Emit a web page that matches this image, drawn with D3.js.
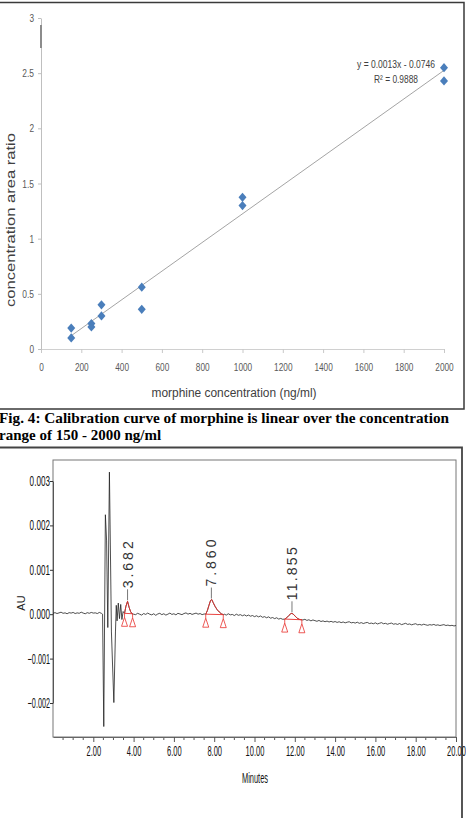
<!DOCTYPE html>
<html>

<head>
    <meta charset='utf-8'>
    <title>Morphine calibration and chromatogram</title>
    <script src='https://d3js.org/d3.v7.min.js'></script>
    <style>
        body { margin: 0; background: #fff; }
        svg { display: block; }
    </style>
</head>

<body>
    <script>
        // ---- calibration data (Fig. 4) ----
        const concentration = [150, 150, 250, 250, 300, 300, 500, 500, 1000, 1000, 2000, 2000];
        const areaRatio = [0.10, 0.19, 0.20, 0.23, 0.30, 0.40, 0.36, 0.56, 1.30, 1.375, 2.43, 2.55];
        const fitSlope = 0.0013;
        const fitIntercept = -0.0746;
        const fitRange = [150, 2000];
        const calXTicks = [0, 200, 400, 600, 800, 1000, 1200, 1400, 1600, 1800, 2000];
        const calYTicks = [0, 0.5, 1, 1.5, 2, 2.5, 3];

        // ---- chromatogram data: [minutes, micro AU] ----
        const chromSignal = [
            [0.0, 20], [0.1, 35], [0.2, 15], [0.3, 30], [0.4, 45], [0.5, 20], [0.6, 30], [0.7, 10], [0.8, 35], [0.9, 25],
            [1.0, 40], [1.1, 15], [1.2, 30], [1.3, 20], [1.4, 45], [1.5, 25], [1.6, 10], [1.7, 35], [1.8, 20], [1.9, 40],
            [2.0, 25], [2.1, 30], [2.2, 15], [2.3, 40], [2.4, 20],
            [2.46, 0], [2.52, -2530], [2.60, 2240], [2.66, 1650], [2.72, -300], [2.80, 3200], [2.90, -400], [3.02, -1990],
            [3.10, -400], [3.14, 200], [3.18, -150], [3.24, 250], [3.30, -100], [3.36, 220], [3.42, -120], [3.48, 60],
            [3.55, 20], [3.62, 180], [3.70, 290], [3.78, 150], [3.85, 60], [3.92, 10], [4.0, 0],
            [4.1, -10], [4.2, 20], [4.3, 0], [4.4, -20], [4.5, 15], [4.6, -5], [4.7, 25], [4.8, 0], [4.9, -15], [5.0, 10],
            [5.1, -25], [5.2, 5], [5.3, 20], [5.4, -10], [5.5, 10], [5.6, -20], [5.7, 0], [5.8, 25], [5.9, -5], [6.0, 10],
            [6.1, -15], [6.2, 20], [6.3, 5], [6.4, -10], [6.5, 15], [6.6, 30], [6.7, 0], [6.8, 20], [6.9, -5], [7.0, 10],
            [7.1, 25], [7.2, 0], [7.3, 15], [7.4, -10], [7.5, 5],
            [7.58, 0], [7.66, 80], [7.74, 200], [7.82, 310], [7.88, 330], [7.95, 260], [8.05, 170], [8.15, 100],
            [8.25, 50], [8.35, 10], [8.45, -10],
            [8.5, 0], [8.6, -20], [8.7, 10], [8.8, -15], [8.9, -5], [9.0, -30], [9.1, 0], [9.2, -25], [9.3, -10], [9.4, -35],
            [9.5, -15], [9.6, -40], [9.7, -20], [9.8, -45], [9.9, -30], [10.0, -55], [10.1, -35], [10.2, -60], [10.3, -40],
            [10.4, -70], [10.5, -55], [10.6, -80], [10.7, -60], [10.8, -90], [10.9, -75], [11.0, -100], [11.1, -80],
            [11.2, -110], [11.3, -95], [11.4, -115],
            [11.5, -110], [11.6, -80], [11.7, -30], [11.8, 10], [11.86, 20], [11.95, -10], [12.05, -60], [12.15, -100],
            [12.25, -120], [12.35, -125],
            [12.4, -130], [12.5, -115], [12.6, -140], [12.7, -125], [12.8, -150], [12.9, -130], [13.0, -145], [13.1, -160],
            [13.2, -140], [13.3, -165], [13.4, -150], [13.5, -170], [13.6, -155], [13.7, -175], [13.8, -160], [13.9, -180],
            [14.0, -165], [14.1, -185], [14.2, -170], [14.3, -190], [14.4, -175], [14.5, -195], [14.6, -180], [14.7, -170],
            [14.8, -195], [14.9, -185], [15.0, -200], [15.1, -180], [15.2, -205], [15.3, -190], [15.4, -210], [15.5, -195],
            [15.6, -185], [15.7, -210], [15.8, -200], [15.9, -215], [16.0, -195], [16.1, -220], [16.2, -205], [16.3, -190],
            [16.4, -215], [16.5, -205], [16.6, -225], [16.7, -210], [16.8, -200], [16.9, -225], [17.0, -215], [17.1, -230],
            [17.2, -210], [17.3, -235], [17.4, -220], [17.5, -205], [17.6, -230], [17.7, -220], [17.8, -240], [17.9, -225],
            [18.0, -215], [18.1, -240], [18.2, -230], [18.3, -245], [18.4, -225], [18.5, -240], [18.6, -250], [18.7, -235],
            [18.8, -245], [18.9, -230], [19.0, -250], [19.1, -240], [19.2, -255], [19.3, -245], [19.4, -235], [19.5, -255],
            [19.6, -245], [19.7, -260], [19.8, -250], [19.9, -265], [20.0, -255]
        ];
        const peakLabels = ['3.682', '7.860', '11.855'];
        const peakApex = [[3.70, 290], [7.86, 330], [11.86, 20]];
        const peakStart = [[3.55, 20], [7.58, 0], [11.5, -110]];
        const peakEnd = [[3.95, 10], [8.45, -10], [12.35, -125]];
        const chromXTicks = [2, 4, 6, 8, 10, 12, 14, 16, 18, 20];
        const chromYTicks = [-2000, -1000, 0, 1000, 2000, 3000];

        const svg = d3.select('body')
            .append('svg')
            .attr('width', 466)
            .attr('height', 818);

        // squeeze narrow tick text to a width estimated from its characters
        function squeeze(sel, digit, dot) {
            sel.each(function () {
                const s = this.textContent;
                let w = 0;
                for (const c of s) w += /[0-9]/.test(c) ? digit : (c === '-' ? digit * 0.7 : dot);
                d3.select(this).attr('textLength', w).attr('lengthAdjust', 'spacingAndGlyphs');
            });
        }

        // ================= Fig. 4 calibration curve =================
        svg.append('path')
            .attr('d', 'M0,2.5H464V409H0')
            .attr('fill', 'none')
            .attr('stroke', '#3a3a3a')
            .attr('stroke-width', 1.5);

        const xCal = d3.scaleLinear().domain([0, 2000]).range([41, 444]);
        const yCal = d3.scaleLinear().domain([0, 3]).range([349, 18]);

        const gx = svg.append('g')
            .attr('transform', 'translate(0,' + yCal(0) + ')')
            .call(d3.axisBottom(xCal).tickValues(calXTicks).tickSize(4).tickSizeOuter(0).tickFormat(d3.format('d')));
        gx.select('.domain').attr('stroke', '#d0d0d0');
        gx.selectAll('.tick line').attr('stroke', '#c8c8c8');
        gx.selectAll('.tick text')
            .attr('y', 14)
            .attr('fill', '#595959')
            .attr('font-size', 11)
            .attr('font-family', 'Liberation Sans, Arial, sans-serif')
            .call(squeeze, 4.6, 2.5);

        const gy = svg.append('g')
            .attr('transform', 'translate(' + xCal(0) + ',0)')
            .call(d3.axisLeft(yCal).tickValues(calYTicks).tickSize(3).tickPadding(4).tickSizeOuter(0)
                .tickFormat(d => String(d)));
        gy.select('.domain').attr('stroke', '#bfbfbf');
        gy.selectAll('.tick line').attr('stroke', '#bfbfbf');
        gy.selectAll('.tick text')
            .attr('fill', '#595959')
            .attr('font-size', 11)
            .attr('font-family', 'Liberation Sans, Arial, sans-serif')
            .call(squeeze, 4.6, 2.5);

        // darker stretch on the top of the y axis in the scan
        svg.append('rect')
            .attr('x', 40).attr('y', 25).attr('width', 2).attr('height', 23)
            .attr('fill', '#8c8c8c');

        // linear fit
        svg.append('line')
            .attr('x1', xCal(fitRange[0]))
            .attr('y1', yCal(fitSlope * fitRange[0] + fitIntercept))
            .attr('x2', xCal(fitRange[1]))
            .attr('y2', yCal(fitSlope * fitRange[1] + fitIntercept))
            .attr('stroke', '#666')
            .attr('stroke-width', 0.6);

        // points
        svg.selectAll('.pt')
            .data(concentration)
            .enter()
            .append('path')
            .attr('class', 'pt')
            .attr('d', 'M0,-4.6L4,0L0,4.6L-4,0Z')
            .attr('fill', '#4a7ebb')
            .attr('transform', (d, i) => 'translate(' + xCal(d) + ',' + yCal(areaRatio[i]) + ')');

        svg.append('text')
            .attr('x', 435).attr('y', 68)
            .attr('text-anchor', 'end')
            .attr('font-size', 11)
            .attr('font-family', 'Liberation Sans, Arial, sans-serif')
            .attr('fill', '#404040')
            .attr('textLength', 78).attr('lengthAdjust', 'spacingAndGlyphs')
            .text('y = 0.0013x - 0.0746');
        svg.append('text')
            .attr('x', 418).attr('y', 83)
            .attr('text-anchor', 'end')
            .attr('font-size', 11)
            .attr('font-family', 'Liberation Sans, Arial, sans-serif')
            .attr('fill', '#404040')
            .attr('textLength', 44).attr('lengthAdjust', 'spacingAndGlyphs')
            .text('R² = 0.9888');

        // axis titles
        svg.append('text')
            .attr('transform', 'translate(15,220) rotate(-90)')
            .attr('text-anchor', 'middle')
            .attr('font-size', 13.5)
            .attr('font-family', 'Liberation Sans, Arial, sans-serif')
            .attr('fill', '#404040')
            .attr('textLength', 174).attr('lengthAdjust', 'spacingAndGlyphs')
            .text('concentration area ratio');
        svg.append('text')
            .attr('x', 234).attr('y', 397)
            .attr('text-anchor', 'middle')
            .attr('font-size', 12)
            .attr('font-family', 'Liberation Sans, Arial, sans-serif')
            .attr('fill', '#404040')
            .attr('textLength', 165).attr('lengthAdjust', 'spacingAndGlyphs')
            .text('morphine concentration (ng/ml)');

        // caption
        const caption = ['Fig. 4: Calibration curve of morphine is linear over the concentration',
            'range of 150 - 2000 ng/ml'];
        svg.selectAll('.cap')
            .data(caption)
            .enter()
            .append('text')
            .attr('class', 'cap')
            .attr('x', -1)
            .attr('y', (d, i) => 423 + i * 17)
            .attr('font-size', 15)
            .attr('font-weight', 'bold')
            .attr('font-family', 'Liberation Serif, Times New Roman, serif')
            .attr('fill', '#000')
            .attr('textLength', (d, i) => i === 0 ? 450 : null)
            .attr('lengthAdjust', 'spacingAndGlyphs')
            .text(d => d);

        // ================= chromatogram =================
        svg.append('path')
            .attr('d', 'M0,447.5H462V818')
            .attr('fill', 'none')
            .attr('stroke', '#444')
            .attr('stroke-width', 1.8);

        const xChr = d3.scaleLinear().domain([0, 20]).range([53, 456]);
        const yChr = d3.scaleLinear().domain([-2000, 3000]).range([703, 481]);

        svg.append('rect')
            .attr('x', 53).attr('y', 460).attr('width', 403).attr('height', 277)
            .attr('fill', 'none')
            .attr('stroke', '#777')
            .attr('stroke-width', 1);

        // x ticks: minor every 0.5 min, labelled every 2 min
        const gxc = svg.append('g').attr('transform', 'translate(0,737)');
        gxc.selectAll('.minor')
            .data(d3.range(0.5, 20.01, 0.5).filter(t => t % 2 !== 0))
            .enter()
            .append('line')
            .attr('x1', d => xChr(d)).attr('x2', d => xChr(d))
            .attr('y1', 0).attr('y2', 3)
            .attr('stroke', '#555');
        gxc.call(d3.axisBottom(xChr).tickValues(chromXTicks).tickSize(5).tickSizeOuter(0).tickFormat(d3.format('.2f')));
        gxc.select('.domain').attr('stroke', '#666');
        gxc.selectAll('.tick line').attr('stroke', '#555');
        gxc.selectAll('.tick text')
            .attr('y', 9)
            .attr('fill', '#111')
            .attr('font-size', 14)
            .attr('font-family', 'Liberation Sans, Arial, sans-serif')
            .call(squeeze, 4.2, 2);

        const gyc = svg.append('g')
            .attr('transform', 'translate(53,0)')
            .call(d3.axisLeft(yChr).tickValues(chromYTicks).tickSize(3).tickPadding(0).tickSizeOuter(0)
                .tickFormat(d => d3.format('.3f')(d / 1e6)));
        gyc.select('.domain').attr('stroke', '#555');
        gyc.selectAll('.tick line').attr('stroke', '#333');
        gyc.selectAll('.tick text')
            .attr('fill', '#111')
            .attr('font-size', 14)
            .attr('font-family', 'Liberation Sans, Arial, sans-serif')
            .call(squeeze, 4.6, 2);

        svg.append('text')
            .attr('transform', 'translate(25,603) rotate(-90)')
            .attr('text-anchor', 'middle')
            .attr('font-size', 11)
            .attr('font-family', 'Liberation Sans, Arial, sans-serif')
            .attr('fill', '#222')
            .text('AU');

        svg.append('text')
            .attr('x', 255).attr('y', 783)
            .attr('text-anchor', 'middle')
            .attr('font-size', 14)
            .attr('font-family', 'Liberation Sans, Arial, sans-serif')
            .attr('fill', '#111')
            .attr('textLength', 26).attr('lengthAdjust', 'spacingAndGlyphs')
            .text('Minutes');

        const line = d3.line()
            .x(d => xChr(d[0]))
            .y(d => yChr(d[1]));

        svg.append('path')
            .datum(chromSignal)
            .attr('d', line)
            .attr('fill', 'none')
            .attr('stroke', '#222')
            .attr('stroke-width', 0.8);

        // integrated peaks: red outline, baseline and start/end markers
        peakLabels.forEach((lab, i) => {
            const s = peakStart[i], e = peakEnd[i], a = peakApex[i];
            const seg = chromSignal.filter(d => d[0] >= s[0] && d[0] <= e[0]);
            svg.append('path')
                .datum(seg)
                .attr('d', line)
                .attr('fill', 'none')
                .attr('stroke', '#e8302c')
                .attr('stroke-width', 0.9);
            svg.append('line')
                .attr('x1', xChr(s[0])).attr('y1', yChr(s[1]))
                .attr('x2', xChr(e[0])).attr('y2', yChr(e[1]))
                .attr('stroke', '#e8302c')
                .attr('stroke-width', 0.9);
            [s, e].forEach(p => {
                const px = xChr(p[0]), py = yChr(p[1]);
                svg.append('line')
                    .attr('x1', px).attr('x2', px)
                    .attr('y1', py).attr('y2', py + 4)
                    .attr('stroke', '#e8302c')
                    .attr('stroke-width', 0.8);
                svg.append('path')
                    .attr('d', 'M' + px + ',' + (py + 4) + 'l3,9h-6z')
                    .attr('fill', 'none')
                    .attr('stroke', '#e8302c')
                    .attr('stroke-width', 0.8);
            });

            const ax = xChr(a[0]), ay = yChr(a[1]);
            svg.append('line')
                .attr('x1', ax).attr('x2', ax)
                .attr('y1', ay - 1).attr('y2', ay - 12)
                .attr('stroke', '#555')
                .attr('stroke-width', 0.8);
            svg.append('text')
                .attr('transform', 'translate(' + (ax + 5) + ',' + (ay - 13) + ') rotate(-90)')
                .attr('font-size', 14)
                .attr('font-family', 'Liberation Sans, Arial, sans-serif')
                .attr('fill', '#333')
                .attr('textLength', lab.length > 5 ? 53 : 47)
                .attr('lengthAdjust', 'spacing')
                .text(lab);
        });
    </script>
</body>

</html>
